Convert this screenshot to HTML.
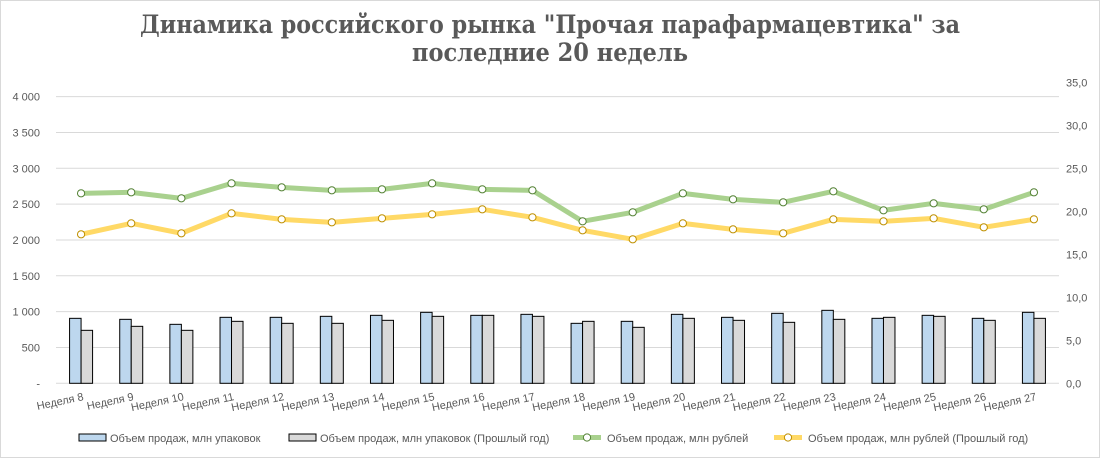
<!DOCTYPE html>
<html><head><meta charset="utf-8">
<style>
html,body{margin:0;padding:0;background:#fff;}
svg{display:block;font-family:"Liberation Sans","DejaVu Sans",sans-serif;}
</style></head>
<body>
<svg id="c" width="1100" height="458" xmlns="http://www.w3.org/2000/svg">
<rect x="0.5" y="0.5" width="1099" height="457" fill="#fff" stroke="#d9d9d9"/>
<text x="550" y="33" text-anchor="middle" font-family="'DejaVu Serif','Liberation Serif',serif" font-weight="bold" font-size="25" fill="#595959" textLength="820" lengthAdjust="spacingAndGlyphs">Динамика российского рынка "Прочая парафармацевтика" за</text>
<text x="550" y="61" text-anchor="middle" font-family="'DejaVu Serif','Liberation Serif',serif" font-weight="bold" font-size="25" fill="#595959" textLength="276" lengthAdjust="spacingAndGlyphs">последние 20 недель</text>
<g id="g"></g>
</svg>
<script>
var g=document.getElementById('g'),h='';
var L=56,R=1059,Y0=383.3,ppk=71.67,cw=(R-L)/20;
var ll=['-','500','1 000','1 500','2 000','2 500','3 000','3 500','4 000'];
var rl=['0,0','5,0','10,0','15,0','20,0','25,0','30,0','35,0'];
for(var i=0;i<=8;i++){var y=Y0-i*ppk/2;
 if(i>0)h+='<line x1="'+L+'" x2="'+R+'" y1="'+y+'" y2="'+y+'" stroke="#d9d9d9" stroke-width="1"/>';
 h+='<text x="40" y="'+(y+4)+'" text-anchor="end" font-size="11" fill="#595959">'+ll[i]+'</text>';}
for(var i=0;i<=7;i++){var y=Y0-i*ppk*3/5;
 h+='<text x="1066" y="'+(y+4)+'" font-size="11" fill="#595959">'+rl[i]+'</text>';}
h+='<line x1="'+L+'" x2="'+R+'" y1="'+Y0+'" y2="'+Y0+'" stroke="#d9d9d9"/>';
var bz=[475,478,493,472,472,469,466,457,466,463,490,484,463,472,460,451,475,466,475,457];
var gz=[511,499,511,484,490,490,481,469,466,469,484,502,475,481,487,478,472,469,481,475];
var gr=[100,97,115,70,82,91,88,70,88,91,184,157,100,118,127,94,151,130,148,97];
var ye=[223,190,220,160,178,187,175,163,148,172,211,238,190,208,220,178,184,175,202,178];
function cx(i){return L+cw*(i+0.5);}
for(var i=0;i<20;i++){var c=cx(i),yb=160+bz[i]/3,yg=160+gz[i]/3;
 h+='<rect x="'+(c-11.5)+'" y="'+yb+'" width="11.5" height="'+(Y0-yb)+'" fill="#bdd7ee" stroke="#000" stroke-width="1"/>';
 h+='<rect x="'+c+'" y="'+yg+'" width="11.5" height="'+(Y0-yg)+'" fill="#d9d9d9" stroke="#000" stroke-width="1"/>';
 h+='<text transform="translate('+(c+3)+',400) rotate(-12)" text-anchor="end" font-size="11" fill="#595959">Неделя '+(i+8)+'</text>';}
function line(a,col,mk){var p=a.map(function(v,i){return cx(i)+','+(160+v/3);}).join(' ');
 var s='<polyline points="'+p+'" fill="none" stroke="'+col+'" stroke-width="5" stroke-linejoin="round"/>';
 a.forEach(function(v,i){s+='<circle cx="'+cx(i)+'" cy="'+(160+v/3)+'" r="3.6" fill="#fff" stroke="'+mk+'" stroke-width="1"/>';});return s;}
h+=line(ye,'#ffd966','#bf9000');
h+=line(gr,'#a9d18e','#548235');
h+='<rect x="79" y="434" width="27" height="7" fill="#bdd7ee" stroke="#000"/>';
h+='<text x="110" y="442" font-size="11" fill="#595959">Объем продаж, млн упаковок</text>';
h+='<rect x="289" y="434" width="27" height="7" fill="#d9d9d9" stroke="#000"/>';
h+='<text x="320" y="442" font-size="11" fill="#595959">Объем продаж, млн упаковок (Прошлый год)</text>';
h+='<line x1="573" x2="601" y1="437.5" y2="437.5" stroke="#a9d18e" stroke-width="5"/><circle cx="587" cy="437.5" r="3.6" fill="#fff" stroke="#548235"/>';
h+='<text x="607" y="442" font-size="11" fill="#595959">Объем продаж, млн рублей</text>';
h+='<line x1="774" x2="802" y1="437.5" y2="437.5" stroke="#ffd966" stroke-width="5"/><circle cx="788" cy="437.5" r="3.6" fill="#fff" stroke="#bf9000"/>';
h+='<text x="808" y="442" font-size="11" fill="#595959">Объем продаж, млн рублей (Прошлый год)</text>';
g.innerHTML=h;
</script>
</body></html>
